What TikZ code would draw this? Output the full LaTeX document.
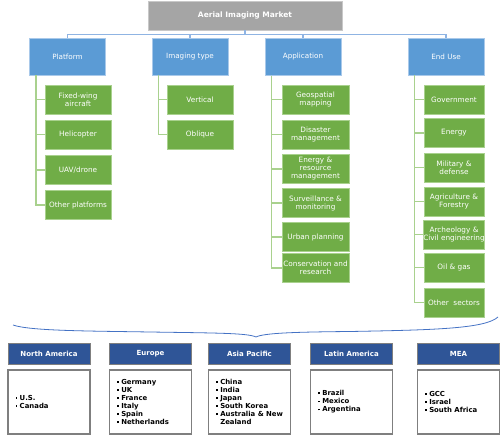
\documentclass[tikz,border=0pt]{standalone}
\usepackage{fontspec}
\setmainfont{DejaVu Sans}
\definecolor{topgray}{HTML}{A5A5A5}
\definecolor{topgrayb}{HTML}{C8C8C8}
\definecolor{catblue}{HTML}{5B9BD5}
\definecolor{catblueb}{HTML}{A9C9EA}
\definecolor{leafgreen}{HTML}{70AD47}
\definecolor{leafgreenb}{HTML}{A9D18E}
\definecolor{buscol}{HTML}{8FB4E3}
\definecolor{regblue}{HTML}{2F5597}
\definecolor{regborder}{HTML}{7F7F7F}
\definecolor{bracecol}{HTML}{4472C4}
\newcommand\bul{\rule[1.7pt]{1.6pt}{1.6pt}\hspace{2.6pt}}
\newcommand\bulsp{\hphantom{\rule{1.6pt}{1.6pt}}\hspace{2.6pt}}
\tikzset{
  topbox/.style={fill=topgray,draw=topgrayb,line width=0.8pt,minimum width=194pt,minimum height=29pt,inner sep=0pt,text=white,font=\fontsize{7.5}{8.5}\selectfont\bfseries},
  catbox/.style={fill=catblue,draw=catblueb,line width=0.8pt,minimum width=76pt,minimum height=37pt,inner sep=0pt,text=white,font=\fontsize{7.2}{8}\selectfont},
  leafbox/.style={fill=leafgreen,draw=leafgreenb,line width=0.8pt,minimum height=29pt,inner sep=0pt,text=white,align=center,font=\fontsize{7.3}{8}\selectfont},
  buscon/.style={draw=buscol,line width=1.3pt},
  leafcon/.style={draw=leafgreenb,line width=1.3pt},
  reghead/.style={fill=regblue,draw=regborder,line width=1pt,minimum width=82pt,minimum height=21pt,inner sep=0pt,text=white,font=\fontsize{7}{8}\selectfont\bfseries},
  regbody/.style={fill=white,draw=regborder,line width=1.3pt,minimum width=82pt,minimum height=64pt,inner sep=0pt},
  listtxt/.style={anchor=west,align=left,inner sep=0pt,font=\fontsize{6.9}{8.1}\selectfont\bfseries},
  bracestyle/.style={draw=bracecol,line width=0.8pt}
}
\begin{document}
\begin{tikzpicture}[x=1pt,y=-1pt]
\useasboundingbox (0,0) rectangle (500,435);
% top
\node[topbox] (top) at (245,15.5) {Aerial Imaging Market};
% categories
\node[catbox] (plat) at (67.5,56.5) {Platform};
\node[catbox] (img) at (190,56.5) {Imaging type};
\node[catbox] (app) at (303,57) {Application};
\node[catbox] (enduse) at (446,56.5) {End Use};
\coordinate (bus) at (245,34.5);
\draw[buscon] (top.south) -- (bus);
\foreach \n in {plat,img,app,enduse} \draw[buscon] (bus) -| (\n.north);
% platform leaves
\begin{scope}[every node/.style={leafbox,minimum width=66pt}]
\node (p1) at (78,99.5) {Fixed-wing\\aircraft};
\node (p2) at (78,134.5) {Helicopter};
\node (p3) at (78,170) {UAV/drone};
\node (p4) at (78,205) {Other platforms};
\node (i1) at (200,99.5) {Vertical};
\node (i2) at (200,134.5) {Oblique};
\end{scope}
\begin{scope}[every node/.style={leafbox,minimum width=67pt}]
\node (a1) at (315.5,99.5) {Geospatial\\mapping};
\node (a2) at (315.5,134.5) {Disaster\\management};
\node (a3) at (315.5,169) {Energy \&\\resource\\management};
\node (a4) at (315.5,203) {Surveillance \&\\monitoring};
\node (a5) at (315.5,237) {Urban planning};
\node (a6) at (315.5,268) {Conservation and\\research};
\end{scope}
\begin{scope}[every node/.style={leafbox,minimum width=60pt}]
\node (e1) at (454,99.5) {Government};
\node (e2) at (454,133) {Energy};
\node (e3) at (454,167.5) {Military \&\\defense};
\node (e4) at (454,201.5) {Agriculture \&\\Forestry};
\node (e5) at (454,234.5) {Archeology \&\\Civil engineering};
\node (e6) at (454,267.5) {Oil \& gas};
\node (e7) at (454,302.5) {Other\ \ sectors};
\end{scope}
% leaf connectors
\foreach \c in {p1,p2,p3,p4} \draw[leafcon] ([xshift=7pt]plat.south west) |- (\c.west);
\foreach \c in {i1,i2} \draw[leafcon] ([xshift=7pt]img.south west) |- (\c.west);
\foreach \c in {a1,a2,a3,a4,a5,a6} \draw[leafcon] ([xshift=7pt]app.south west) |- (\c.west);
\foreach \c in {e1,e2,e3,e4,e5,e6,e7} \draw[leafcon] ([xshift=7pt]enduse.south west) |- (\c.west);
% brace
\draw[bracestyle] (13,325) .. controls (30,331) and (90,331) .. (150,332)
  .. controls (215,333) and (248,333) .. (256,337)
  .. controls (264,333) and (295,332) .. (350,331.5)
  .. controls (430,330) and (485,329) .. (498,317);
% regions
\node[reghead] (hna) at (49,354) {North America};
\node[reghead] (heu) at (150.5,354) {Europe};
\node[reghead] (hap) at (249.5,354) {Asia Pacific};
\node[reghead] (hla) at (351.5,354) {Latin America};
\node[reghead] (hme) at (458.5,354) {MEA};
\node[regbody] (bna) at (49,402) {};
\node[regbody] (beu) at (150.5,402) {};
\node[regbody] (bap) at (249.5,402) {};
\node[regbody] (bla) at (351.5,402) {};
\node[regbody] (bme) at (458.5,402) {};
\node[listtxt] (tna) at ([xshift=8pt]bna.west) {\bul U.S.\\\bul Canada};
\node[listtxt] (teu) at ([xshift=8pt]beu.west) {\bul Germany\\\bul UK\\\bul France\\\bul Italy\\\bul Spain\\\bul Netherlands};
\node[listtxt] (tap) at ([xshift=8pt]bap.west) {\bul China\\\bul India\\\bul Japan\\\bul South Korea\\\bul Australia \& New\\\bulsp Zealand};
\node[listtxt] (tla) at ([xshift=8pt]bla.west) {\bul Brazil\\\bul Mexico\\\bul Argentina};
\node[listtxt] (tme) at ([xshift=8pt]bme.west) {\bul GCC\\\bul Israel\\\bul South Africa};
\end{tikzpicture}
\end{document}
